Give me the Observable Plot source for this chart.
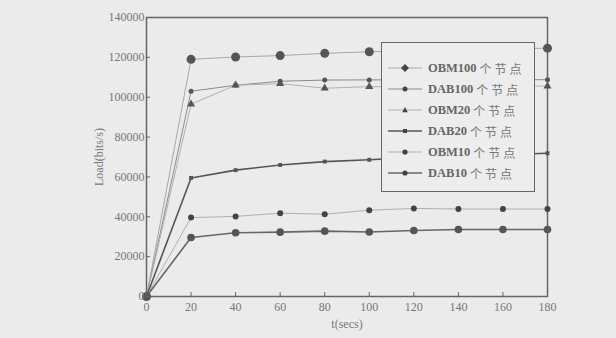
<!DOCTYPE html>
<html>
<head>
<meta charset="utf-8">
<script src="https://cdn.jsdelivr.net/npm/d3@7"></script>
<script src="https://cdn.jsdelivr.net/npm/@observablehq/plot@0.6"></script>
<style>
  html, body { margin: 0; padding: 0; background: #ebebeb; }
  #wrap { position: relative; width: 616px; height: 338px; overflow: hidden; }
  #legend { position: absolute; left: 381px; top: 42px; width: 154px; height: 150px;
    border: 1.5px solid #666; background: #ededed; box-sizing: border-box; }
  .item { position: absolute; left: 0; height: 20px; display: flex; align-items: center;
    font-family: "Liberation Serif", "Noto Sans CJK SC", serif; font-size: 12.5px; color: #666; font-weight: bold; white-space: nowrap; }
  .item svg { margin-left: 6px; margin-right: 6px; }
  .cjk { font-family: "Noto Sans CJK SC", sans-serif; font-weight: normal; letter-spacing: 3px; margin-left: 3px; font-size: 12px; color: #777; }
</style>
</head>
<body>
<div id="wrap"><div id="chart"></div><div id="legend"></div></div>
<script>
const times = [0, 20, 40, 60, 80, 100, 120, 140, 160, 180];
const seriesNames = ["OBM100个节点", "DAB100个节点", "OBM20个节点", "DAB20个节点", "OBM10个节点", "DAB10个节点"];
const obm100 = [0, 119000, 120200, 120900, 122000, 122800, 123300, 123800, 124200, 124600];
const dab100 = [0, 103000, 106000, 108000, 108600, 108700, 108700, 108800, 108800, 108800];
const obm20  = [0, 96500, 106000, 106800, 104500, 105300, 105400, 105500, 105500, 105600];
const dab20  = [0, 59500, 63400, 66000, 67700, 68600, 69800, 70600, 71200, 71900];
const obm10  = [0, 39600, 40200, 41800, 41300, 43300, 44200, 43900, 43900, 43900];
const dab10  = [0, 29600, 32000, 32300, 32800, 32400, 33100, 33600, 33600, 33600];
const yTicks = [0, 20000, 40000, 60000, 80000, 100000, 120000, 140000];
const xTicks = [0, 20, 40, 60, 80, 100, 120, 140, 160, 180];

const valuesList = [obm100, dab100, obm20, dab20, obm10, dab10];
const styles = [
  {stroke: "#a8a8a8", sw: 1, symbol: "circle", r: 4.5, fill: "#555", legendSymbol: "diamond"},
  {stroke: "#8a8a8a", sw: 1, symbol: "circle", r: 2.5, fill: "#555", legendSymbol: "circle"},
  {stroke: "#b0b0b0", sw: 1, symbol: "triangle", r: 3, fill: "#555", legendSymbol: "triangle"},
  {stroke: "#555", sw: 1.6, symbol: "square", r: 2.2, fill: "#555", legendSymbol: "square"},
  {stroke: "#b0b0b0", sw: 1, symbol: "circle", r: 3, fill: "#444", legendSymbol: "circle"},
  {stroke: "#666", sw: 1.6, symbol: "circle", r: 3.8, fill: "#555", legendSymbol: "circle"}
];

const rows = [];
seriesNames.forEach((s, i) => times.forEach((t, j) => rows.push({series: s, idx: i, t, v: valuesList[i][j]})));

const marks = [
  Plot.frame({stroke: "#666", strokeWidth: 1.5})
];
seriesNames.forEach((s, i) => {
  const st = styles[i];
  const d = rows.filter(r => r.idx === i);
  marks.push(Plot.line(d, {x: "t", y: "v", stroke: st.stroke, strokeWidth: st.sw}));
});
seriesNames.forEach((s, i) => {
  const st = styles[i];
  const d = rows.filter(r => r.idx === i);
  marks.push(Plot.dot(d, {x: "t", y: "v", symbol: () => st.symbol, r: st.r, fill: st.fill, stroke: "none"}));
});
marks.push(
  Plot.axisX({ticks: xTicks, tickSize: -4, tickPadding: 10, stroke: "#666", fill: "#777",
    fontSize: 12, label: "t(secs)", labelAnchor: "center", labelArrow: "none", labelOffset: 31}),
  Plot.axisY({ticks: yTicks, tickSize: -4, tickPadding: 6, stroke: "#666", fill: "#777",
    fontSize: 12, label: "Load(bits/s)", labelAnchor: "center", labelArrow: "none", labelOffset: 52, tickFormat: d => String(d)})
);

const chart = Plot.plot({
  width: 616,
  height: 338,
  marginLeft: 146,
  marginRight: 69,
  marginTop: 17,
  marginBottom: 42,
  style: {background: "#ebebeb", fontFamily: "'Liberation Serif', serif", color: "#777"},
  x: {domain: [0, 180]},
  y: {domain: [0, 140000]},
  symbol: {type: "identity"},
  marks
});
document.getElementById("chart").appendChild(chart);

// legend
const legend = document.getElementById("legend");
const symPath = {
  circle: r => `<circle cx="17" cy="8" r="${r}" fill="#444"/>`,
  diamond: r => `<path d="M17 ${8-4}L${17+4} 8L17 ${8+4}L${17-4} 8Z" fill="#444"/>`,
  triangle: r => `<path d="M17 ${8-3}L${17+2.8} ${8+2.2}L${17-2.8} ${8+2.2}Z" fill="#444"/>`,
  square: r => `<rect x="${17-2}" y="${8-2}" width="4" height="4" fill="#444"/>`
};
seriesNames.forEach((s, i) => {
  const st = styles[i];
  const m = s.match(/^([A-Z]+\d+)(.*)$/);
  const div = document.createElement("div");
  div.className = "item";
  div.style.top = (15 + i * 21) + "px";
  div.innerHTML = `<svg width="34" height="16"><line x1="0" x2="34" y1="8" y2="8" stroke="${st.stroke}" stroke-width="${st.sw}"/>${symPath[st.legendSymbol](Math.min(st.r, 2.6))}</svg><span>${m[1]}</span><span class="cjk">${m[2]}</span>`;
  legend.appendChild(div);
});
</script>
</body>
</html>
